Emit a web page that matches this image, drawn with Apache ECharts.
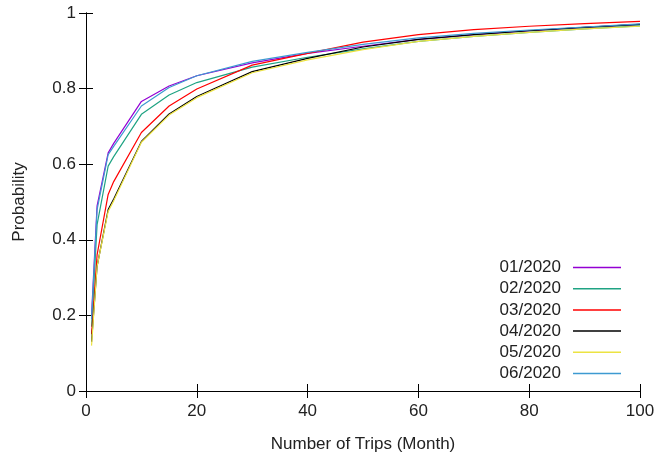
<!DOCTYPE html>
<html>
<head>
<meta charset="utf-8">
<script src="https://cdn.jsdelivr.net/npm/echarts@6/dist/echarts.min.js"></script>
<style>
  html, body { margin: 0; padding: 0; background: #fff; }
  #main { width: 670px; height: 457px; }
</style>
</head>
<body>
<div id="main"></div>
<script>
// trips per month (x) and cumulative probability per month
const trips = [1, 2, 4, 5, 10, 15, 20, 30, 40, 50, 60, 70, 80, 90, 100]
const jan = [0.20, 0.49, 0.630, 0.655, 0.766, 0.807, 0.834, 0.868, 0.893, 0.912, 0.930, 0.943, 0.953, 0.962, 0.970]
const feb = [0.17, 0.44, 0.595, 0.620, 0.732, 0.783, 0.816, 0.857, 0.883, 0.905, 0.925, 0.938, 0.949, 0.958, 0.966]
const mar = [0.15, 0.36, 0.520, 0.554, 0.684, 0.754, 0.799, 0.862, 0.893, 0.923, 0.943, 0.956, 0.965, 0.972, 0.978]
const apr = [0.13, 0.33, 0.480, 0.508, 0.660, 0.733, 0.779, 0.845, 0.880, 0.910, 0.930, 0.943, 0.953, 0.962, 0.970]
const may = [0.12, 0.33, 0.475, 0.503, 0.658, 0.730, 0.776, 0.842, 0.876, 0.903, 0.925, 0.938, 0.949, 0.958, 0.965]
const jun = [0.19, 0.48, 0.625, 0.647, 0.754, 0.803, 0.834, 0.872, 0.896, 0.917, 0.934, 0.946, 0.955, 0.963, 0.971]

const names = ['01/2020', '02/2020', '03/2020', '04/2020', '05/2020', '06/2020']
const values = [jan, feb, mar, apr, may, jun]
const colors = ['#9400d3', '#1fa383', '#ff0000', '#000000', '#ece342', '#3d9ad1']

const font = 'Liberation Sans, Arial, sans-serif'
const labelStyle = { color: '#222', fontSize: 17, fontFamily: font }

const chart = echarts.init(document.getElementById('main'))

const option = {
  animation: false,
  grid: { left: 86, right: 30, top: 13, bottom: 66, containLabel: false, outerBoundsMode: 'none' },
  legend: {
    orient: 'vertical',
    right: 44,
    top: 254,
    align: 'right',
    icon: 'rect',
    itemWidth: 48,
    itemHeight: 1.5,
    itemGap: 4.2,
    textStyle: { color: '#222', fontSize: 17, fontFamily: font, padding: [0, 7, 0, 0] },
    data: names
  },
  xAxis: [
    {
      type: 'value',
      min: 0,
      max: 100,
      interval: 20,
      name: 'Number of Trips (Month)',
      nameLocation: 'middle',
      nameGap: 45,
      nameTextStyle: labelStyle,
      axisLine: { lineStyle: { color: '#000', width: 1 } },
      axisTick: { inside: true, length: 7, lineStyle: { color: '#000' } },
      axisLabel: Object.assign({ margin: 12 }, labelStyle),
      splitLine: { show: false }
    },
    {
      type: 'value',
      position: 'top',
      min: 0,
      max: 100,
      interval: 20,
      axisLine: { lineStyle: { color: '#000', width: 1 } },
      axisTick: { inside: true, length: 7, lineStyle: { color: '#000' } },
      axisLabel: { show: false },
      splitLine: { show: false }
    }
  ],
  yAxis: [
    {
      type: 'value',
      min: 0,
      max: 1,
      interval: 0.2,
      name: 'Probability',
      nameLocation: 'middle',
      nameGap: 58,
      nameTextStyle: labelStyle,
      axisLine: { show: true, lineStyle: { color: '#000', width: 1 } },
      axisTick: { show: true, inside: true, length: 7, lineStyle: { color: '#000' } },
      axisLabel: Object.assign({ margin: 10 }, labelStyle),
      splitLine: { show: false }
    },
    {
      type: 'value',
      position: 'right',
      min: 0,
      max: 1,
      interval: 0.2,
      axisLine: { show: true, lineStyle: { color: '#000', width: 1 } },
      axisTick: { show: true, inside: true, length: 7, lineStyle: { color: '#000' } },
      axisLabel: { show: false },
      splitLine: { show: false }
    }
  ],
  series: names.map((n, i) => ({
    name: n,
    type: 'line',
    symbol: 'none',
    color: colors[i],
    lineStyle: { width: 1.2, color: colors[i] },
    data: trips.map((t, j) => [t, values[i][j]])
  }))
}

option && chart.setOption(option)
</script>
</body>
</html>
